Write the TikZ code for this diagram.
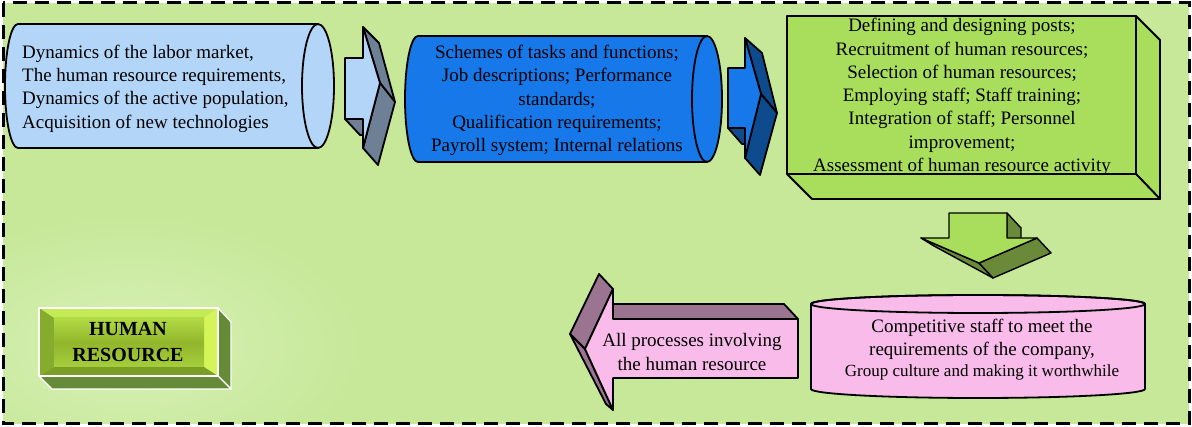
\documentclass[tikz,border=0pt]{standalone}
\usepackage{fontspec}
\setmainfont{Liberation Serif}
\definecolor{bgfill}{HTML}{C6E898}
\definecolor{bgglow}{HTML}{D8F0B6}
\definecolor{skyface}{HTML}{B3D5F7}
\definecolor{slateside}{HTML}{6E8096}
\definecolor{blueface}{HTML}{1778EA}
\definecolor{navyside}{HTML}{0E4A8E}
\definecolor{limeface}{HTML}{A9DD5C}
\definecolor{oliveside}{HTML}{6A8A3A}
\definecolor{pinkface}{HTML}{F8BBEA}
\definecolor{mauveside}{HTML}{9A7490}
\definecolor{btnside}{HTML}{658A38}
\definecolor{btntop}{HTML}{C4EA55}
\definecolor{btnleft}{HTML}{86AC2E}
\definecolor{btnright}{HTML}{D4F55A}
\definecolor{btnbottom}{HTML}{7A9E28}
\definecolor{btnhi}{HTML}{B2DA44}
\definecolor{btnmid}{HTML}{92B62C}
\definecolor{btnlo}{HTML}{A6CE3C}
\begin{document}
\begin{tikzpicture}[x=1pt,y=-1pt,
  outline/.style={draw=black,line width=1.8pt,line join=round},
  txt/.style={font=\fontsize{19}{23.3}\selectfont,inner sep=0pt,align=center,text=black},
  sideface/.style={outline,fill=#1},
  btnedge/.style={draw=white,line width=1.2pt,line join=round}]
\useasboundingbox (0,0) rectangle (1192,427);

% page and framed background
\fill[white] (0,0) rectangle (1192,427);
\fill[bgfill] (3,3) rectangle (1189,424);
\begin{scope}
  \clip (3,3) rectangle (1189,424);
  \shade[inner color=bgglow,outer color=bgfill] (-110,210) rectangle (370,480);
\end{scope}

% ---- input cylinder (labour market factors)
\draw[outline,fill=skyface] (18,24) -- (318,24)
  arc[start angle=-90,end angle=90,x radius=16,y radius=62] -- (18,148)
  arc[start angle=90,end angle=270,x radius=13,y radius=62] -- cycle;
\draw[outline] (318,24) arc[start angle=-90,end angle=-270,x radius=16,y radius=62];
\node[txt,anchor=west,align=left] (inputs) at (22,88.5)
  {Dynamics of the labor market,\\The human resource requirements,\\Dynamics of the active population,\\Acquisition of new technologies};

% ---- first block arrow
\draw[sideface=slateside] (345,119) -- (363,119) -- (376,135) -- (360,135) -- cycle;
\draw[sideface=slateside] (363,27) -- (380,83) -- (395,102) -- (379,43) -- cycle;
\draw[sideface=slateside] (380,83) -- (363,148) -- (378,165) -- (395,102) -- cycle;
\draw[outline,fill=skyface] (345,58) -- (363,58) -- (363,27) -- (380,83) -- (363,148) -- (363,119) -- (345,119) -- cycle;

% ---- organisation cylinder
\draw[outline,fill=blueface] (418,36) -- (707,36)
  arc[start angle=-90,end angle=90,x radius=15,y radius=63] -- (418,162)
  arc[start angle=90,end angle=270,x radius=13,y radius=63] -- cycle;
\draw[outline] (707,36) arc[start angle=-90,end angle=-270,x radius=15,y radius=63];
\node[txt] (organisation) at (557,100.5)
  {Schemes of tasks and functions;\\Job descriptions; Performance\\standards;\\Qualification requirements;\\Payroll system; Internal relations};

% ---- second block arrow
\draw[sideface=navyside] (728,128) -- (745,128) -- (758,144) -- (742,144) -- cycle;
\draw[sideface=navyside] (745,38) -- (761,94) -- (777,113) -- (762,53) -- cycle;
\draw[sideface=navyside] (761,94) -- (745,158) -- (760,175) -- (777,113) -- cycle;
\draw[outline,fill=blueface] (728,68) -- (745,68) -- (745,38) -- (761,94) -- (745,158) -- (745,128) -- (728,128) -- cycle;

% ---- activities box
\draw[sideface=limeface] (1136,16) -- (1160,40) -- (1160,199) -- (1136,174) -- cycle;
\draw[sideface=limeface] (787,174) -- (1136,174) -- (1160,199) -- (812,199) -- cycle;
\draw[outline,fill=limeface] (787,16) rectangle (1136,174);
\node[txt] (activities) at (962,97)
  {Defining and designing posts;\\Recruitment of human resources;\\Selection of human resources;\\Employing staff; Staff training;\\Integration of staff; Personnel\\improvement;\\Assessment of human resource activity};

% ---- downward block arrow
\draw[sideface=oliveside,line width=1.4pt] (1007,213) -- (1021,228) -- (1021,253) -- (1007,238) -- cycle;
\draw[sideface=oliveside,line width=1.4pt] (921,238) -- (979,263) -- (993,278) -- (934,246) -- cycle;
\draw[sideface=oliveside,line width=1.4pt] (979,263) -- (1037,238) -- (1051,253) -- (993,278) -- cycle;
\draw[outline,line width=1.4pt,fill=limeface] (949,213) -- (1007,213) -- (1007,238) -- (1037,238) -- (979,263) -- (921,238) -- (949,238) -- cycle;

% ---- result cylinder
\draw[outline,fill=pinkface] (811,304) -- (811,389)
  arc[start angle=180,end angle=0,x radius=167,y radius=9] -- (1145,304)
  arc[start angle=0,end angle=-180,x radius=167,y radius=9] -- cycle;
\draw[outline] (978,304) ellipse[x radius=167,y radius=9];
\node[txt] (result) at (982,349.5)
  {Competitive staff to meet the\\requirements of the company,\\[-2pt]{\fontsize{17}{20}\selectfont Group culture and making it worthwhile}};

% ---- leftward block arrow
\draw[sideface=mauveside] (613,319) -- (798,319) -- (784,304) -- (599,304) -- cycle;
\draw[sideface=mauveside] (613,289) -- (585,349) -- (570,334) -- (599,274) -- cycle;
\draw[sideface=mauveside] (585,349) -- (613,410) -- (606,404) -- (570,334) -- cycle;
\draw[outline,fill=pinkface] (798,319) -- (613,319) -- (613,289) -- (585,349) -- (613,410) -- (613,378) -- (798,378) -- cycle;
\node[txt] (processes) at (692,352) {All processes involving\\the human resource};

% ---- bevelled title button
\draw[btnedge,fill=btnside] (218,308) -- (231,322) -- (231,389) -- (218,376) -- cycle;
\draw[btnedge,fill=btnside] (39,376) -- (218,376) -- (231,389) -- (52,389) -- cycle;
\fill[btntop] (39,308) -- (218,308) -- (204,318) -- (54,318) -- cycle;
\fill[btnleft] (39,308) -- (54,318) -- (54,367) -- (39,376) -- cycle;
\fill[btnright] (218,308) -- (218,376) -- (204,367) -- (204,318) -- cycle;
\fill[btnbottom] (39,376) -- (54,367) -- (204,367) -- (218,376) -- cycle;
\shade[top color=btnhi,bottom color=btnlo,middle color=btnmid] (54,318) rectangle (204,367);
\draw[btnedge] (39,308) rectangle (218,376);
\node[txt,font=\fontsize{20}{26}\selectfont\bfseries] (title) at (128,342) {HUMAN\\RESOURCE};

% dashed frame
\draw[line width=3pt,dash pattern=on 14pt off 8pt] (3,3) rectangle (1189,424);
\end{tikzpicture}
\end{document}
